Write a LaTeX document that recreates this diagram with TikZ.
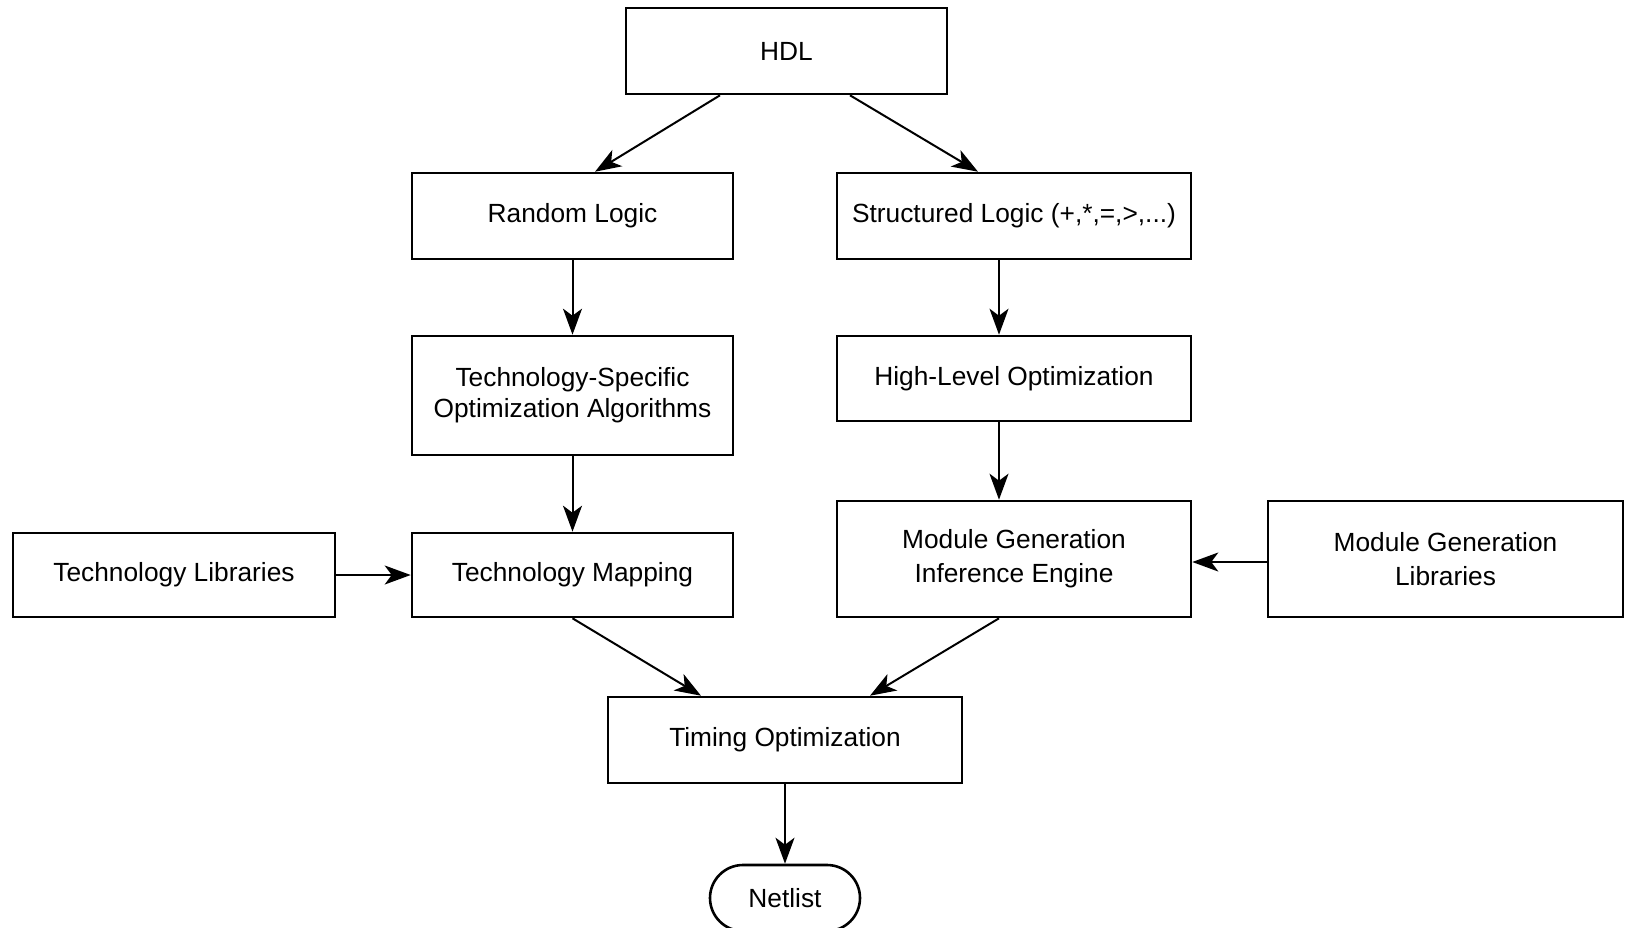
\documentclass[tikz,border=0pt]{standalone}
\usepackage{fontspec}
\setmainfont{Liberation Sans}
\usetikzlibrary{arrows.meta,shapes.misc}
\begin{document}
\begin{tikzpicture}[x=1pt,y=-1pt,
  box/.style={draw,line width=2.6pt,rectangle,align=center,inner sep=0pt,
    font=\fontsize{26.3}{31}\selectfont},
  arr/.style={line width=2pt,-{Stealth[length=26pt,width=19pt,inset=7pt]}}]
\useasboundingbox[fill=white] (0,0) rectangle (1628,927);

% flow boxes
\node[box,minimum width=321pt,minimum height=86pt] (hdl) at (786.5,51) {HDL};
\node[box,minimum width=321pt,minimum height=86pt] (rand) at (572.5,216) {Random Logic};
\node[box,minimum width=354pt,minimum height=86pt] (struct) at (1014,216) {Structured Logic (+,*,=,>,...)};
\node[box,minimum width=321pt,minimum height=119pt] (techspec) at (572.5,395.5) {Technology-Specific\\Optimization Algorithms};
\node[box,minimum width=354pt,minimum height=85pt] (highlev) at (1014,378.5) {\raisebox{-3pt}{High-Level Optimization}};
\node[box,minimum width=321pt,minimum height=84pt] (techmap) at (572.5,575) {\raisebox{-2pt}{Technology Mapping}};
\node[box,minimum width=322pt,minimum height=84pt] (techlib) at (174,575) {\raisebox{-2pt}{Technology Libraries}};
\node[box,minimum width=354pt,minimum height=116pt,font=\fontsize{26.3}{34}\selectfont] (modgen) at (1014,559) {Module Generation\\Inference Engine};
\node[box,minimum width=355pt,minimum height=116pt,font=\fontsize{26.3}{34}\selectfont] (modlib) at (1445.5,559) {Module Generation\\Libraries};
\node[box,minimum width=354pt,minimum height=86pt] (timing) at (785,740) {\raisebox{-2pt}{Timing Optimization}};
\node[box,rounded rectangle,minimum width=150pt,minimum height=66pt] (netlist) at (785,898) {Netlist};

% connectors
\draw[arr] ([xshift=-66.5pt]hdl.south) -- ([xshift=22.5pt]rand.north);
\draw[arr] ([xshift=63.5pt]hdl.south) -- ([xshift=-36pt]struct.north);
\draw[arr] (rand.south) -- (techspec.north);
\draw[arr] (techspec.south) -- (techmap.north);
\draw[arr] ([xshift=-15pt]struct.south) -- ([xshift=-15pt]highlev.north);
\draw[arr] ([xshift=-15pt]highlev.south) -- ([xshift=-15pt]modgen.north);
\draw[arr] (techlib.east) -- (techmap.west);
\draw[arr] ([yshift=-3pt]modlib.west) -- ([yshift=-3pt]modgen.east);
\draw[arr] (techmap.south) -- ([xshift=-84pt]timing.north);
\draw[arr] ([xshift=-15pt]modgen.south) -- ([xshift=85pt]timing.north);
\draw[arr] (timing.south) -- (netlist.north);
\end{tikzpicture}
\end{document}
